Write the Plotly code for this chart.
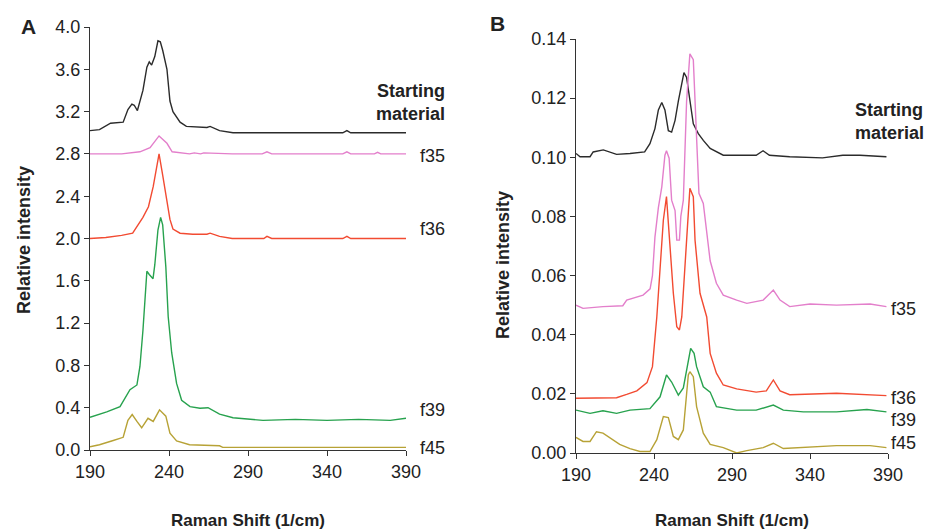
import plotly.graph_objects as go

# ---- panel A data (Raman shift, relative intensity) ----
a_start_x = [190, 196, 203, 211, 214, 216.5, 218, 220, 223.5, 226, 227.5, 229, 231, 233, 234.5, 236, 238.7, 240.6,
             242.5, 247, 251, 259.6, 264, 266, 272, 280.5, 300, 350, 352.6, 355, 390]
a_start_y = [3.02, 3.03, 3.09, 3.10, 3.22, 3.27, 3.26, 3.21, 3.40, 3.62, 3.67, 3.64, 3.72, 3.87, 3.86, 3.78, 3.60, 3.30,
             3.20, 3.10, 3.06, 3.05, 3.05, 3.06, 3.02, 3.00, 3.00, 3.00, 3.02, 3.00, 3.00]

a_f35_x = [190, 210, 221.6, 228, 233.7, 238.7, 242, 250, 253, 256, 260, 262, 280, 299, 302, 305, 350, 352.6, 355, 370, 372, 374, 390]
a_f35_y = [2.80, 2.80, 2.82, 2.86, 2.97, 2.90, 2.82, 2.81, 2.80, 2.81, 2.80, 2.81, 2.80, 2.80, 2.82, 2.80, 2.80, 2.82, 2.80, 2.80,
           2.815, 2.80, 2.80]

a_f36_x = [190, 200, 210, 217, 223.5, 227, 230, 232, 233.7, 236, 238.7, 240.6, 242.5, 247, 255, 264, 266, 268, 272, 280,
           300, 302, 305, 350, 352.6, 355, 390]
a_f36_y = [2.00, 2.01, 2.03, 2.05, 2.20, 2.30, 2.49, 2.68, 2.80, 2.60, 2.35, 2.18, 2.09, 2.05, 2.04, 2.04, 2.05, 2.04, 2.02,
           2.00, 2.00, 2.02, 2.00, 2.00, 2.02, 2.00, 2.00]

a_f39_x = [190, 200.6, 209, 215.3, 219.7, 221.6, 223.5, 226, 227.5, 229.9, 231, 233, 234.7, 236, 238, 239.5, 241.7, 244.8,
           248, 253.3, 259.6, 264.7, 272, 280.5, 299.5, 320, 340, 360, 380, 390]
a_f39_y = [0.31, 0.36, 0.41, 0.57, 0.615, 0.79, 1.13, 1.69, 1.66, 1.62, 1.75, 2.08, 2.20, 2.13, 1.73, 1.26, 0.92, 0.63,
           0.47, 0.41, 0.395, 0.40, 0.34, 0.305, 0.28, 0.29, 0.28, 0.29, 0.28, 0.30]

a_f45_x = [190, 196, 204.7, 211, 214, 216.7, 219.7, 222.7, 226.7, 230, 234, 238, 240.6, 244.8, 253, 272, 274, 390]
a_f45_y = [0.03, 0.05, 0.09, 0.12, 0.28, 0.335, 0.27, 0.21, 0.30, 0.27, 0.38, 0.32, 0.16, 0.085, 0.05, 0.04, 0.025, 0.025]

# ---- panel B data ----
b_start_x = [190, 192.6, 199, 201, 207.5, 211.8, 216, 224.6, 234, 237.4, 240.6, 242.8, 245, 247, 249.2, 251.3, 253.5,
             255.6, 257.8, 259.2, 260.9, 263, 265.2, 268.4, 271.6, 276, 284.4, 293, 305.5, 309.9, 314, 327, 348, 361,
             372, 389]
b_start_y = [0.1013, 0.1002, 0.1002, 0.1018, 0.1025, 0.1018, 0.101, 0.1013, 0.1018, 0.1046, 0.1097, 0.116, 0.1185,
             0.116, 0.109, 0.1085, 0.1125, 0.119, 0.1256, 0.1286, 0.127, 0.119, 0.1113, 0.108, 0.1057, 0.103, 0.1007,
             0.1007, 0.1007, 0.1022, 0.1007, 0.1002, 0.0998, 0.1007, 0.1007, 0.1002]

b_f35_x = [190, 194.5, 207.3, 220, 222.5, 229, 233, 237.5, 239, 240.6, 242.8, 245, 247, 248, 249.7, 251.3, 253.5, 254.6,
           256.3, 257.2, 258.8, 260.9, 263, 265.2, 266.7, 268.8, 271.6, 273.8, 276, 280, 284.4, 293, 299.5, 310, 316.5,
           320.8, 327, 340, 357, 378.5, 389]
b_f35_y = [0.050, 0.0489, 0.0495, 0.0498, 0.0517, 0.0528, 0.0534, 0.0555, 0.060, 0.073, 0.083, 0.090, 0.1007, 0.1022,
           0.0997, 0.0855, 0.082, 0.072, 0.072, 0.080, 0.0855, 0.119, 0.135, 0.133, 0.1114, 0.0878, 0.0844, 0.0743,
           0.065, 0.0574, 0.0534, 0.0517, 0.0506, 0.0517, 0.0551, 0.0517, 0.0495, 0.0504, 0.050, 0.0504, 0.0495]

b_f36_x = [190, 207.3, 216, 222.5, 229, 235.5, 239, 241.8, 243.9, 246, 248, 249.8, 252.4, 254.6, 256.3, 257.8, 259.9,
           262, 263, 265.2, 266.3, 269.5, 273.8, 276, 280, 284.4, 293, 305.5, 312, 316.5, 320.8, 327, 357, 389]
b_f36_y = [0.0185, 0.0186, 0.0187, 0.0198, 0.021, 0.0238, 0.0292, 0.046, 0.063, 0.0788, 0.0867, 0.0743, 0.054, 0.0427,
           0.0416, 0.046, 0.063, 0.0833, 0.0895, 0.0867, 0.072, 0.054, 0.046, 0.0337, 0.027, 0.023, 0.0217, 0.0206,
           0.021, 0.0247, 0.021, 0.0197, 0.0202, 0.0194]

b_f39_x = [190, 199, 207.3, 216, 224.6, 237.4, 243.9, 248, 251.3, 255.6, 258.8, 262, 263.5, 265.7, 267.3, 271.6, 276,
           280, 293, 305.5, 316.5, 322.9, 335.7, 357, 376.5, 389]
b_f39_y = [0.0145, 0.0134, 0.0143, 0.0134, 0.0145, 0.015, 0.019, 0.0264, 0.024, 0.0196, 0.022, 0.0303, 0.0354, 0.0337,
           0.0292, 0.0224, 0.0206, 0.0157, 0.0145, 0.0145, 0.0162, 0.0145, 0.0139, 0.0139, 0.0147, 0.0139]

b_f45_x = [190, 194.5, 199, 203.1, 207.3, 211.8, 218, 224.6, 231, 237.4, 241.8, 246, 249.2, 252.4, 255.6, 258.8, 262,
           263, 265.2, 267.3, 271.6, 276, 284.4, 293, 299.5, 310, 316.5, 322.9, 335.7, 357, 378.5, 389]
b_f45_y = [0.0053, 0.0039, 0.0039, 0.0072, 0.0067, 0.0051, 0.0029, 0.0015, 0.0005, 0.0005, 0.0045, 0.0123, 0.012,
           0.0056, 0.0045, 0.0078, 0.0264, 0.0275, 0.0258, 0.0157, 0.0067, 0.0029, 0.0018, 0.0, 0.0008, 0.0018,
           0.0033, 0.0015, 0.0018, 0.0025, 0.0025, 0.0018]

x_ticks = [190, 240, 290, 340, 390]
a_ticks = [0.0, 0.4, 0.8, 1.2, 1.6, 2.0, 2.4, 2.8, 3.2, 3.6, 4.0]
b_ticks = [0.00, 0.02, 0.04, 0.06, 0.08, 0.10, 0.12, 0.14]

colors = {"start": "#2b2b2b", "f35": "#e37fcb", "f36": "#f24b32", "f39": "#27a24e", "f45": "#b7a236"}

W, H = 927, 529
FONT = "Liberation Sans, Arial, sans-serif"

fig = go.Figure()

panel_a = [(a_start_x, a_start_y, "start"), (a_f35_x, a_f35_y, "f35"), (a_f36_x, a_f36_y, "f36"),
           (a_f39_x, a_f39_y, "f39"), (a_f45_x, a_f45_y, "f45")]
panel_b = [(b_start_x, b_start_y, "start"), (b_f35_x, b_f35_y, "f35"), (b_f36_x, b_f36_y, "f36"),
           (b_f39_x, b_f39_y, "f39"), (b_f45_x, b_f45_y, "f45")]

for xs, ys, key in panel_a:
    fig.add_trace(go.Scatter(x=xs, y=ys, mode="lines", line=dict(color=colors[key], width=1.4),
                             xaxis="x", yaxis="y", showlegend=False, hoverinfo="skip"))
for xs, ys, key in panel_b:
    fig.add_trace(go.Scatter(x=xs, y=ys, mode="lines", line=dict(color=colors[key], width=1.4),
                             xaxis="x2", yaxis="y2", showlegend=False, hoverinfo="skip"))

axis_style = dict(showline=True, linecolor="#333", linewidth=1, ticks="outside", ticklen=5, tickcolor="#333",
                  showgrid=False, zeroline=False, automargin=False,
                  tickfont=dict(family=FONT, size=18, color="#222"))

fig.update_layout(
    width=W, height=H, margin=dict(l=0, r=0, t=0, b=0, pad=0),
    paper_bgcolor="white", plot_bgcolor="white",
    xaxis=dict(domain=[90 / W, 406 / W], range=[190, 390], tickvals=x_ticks, anchor="y", **axis_style),
    yaxis=dict(domain=[1 - 450 / H, 1 - 27 / H], range=[0, 4.0], tickvals=a_ticks, tickformat=".1f",
               anchor="x", **axis_style),
    xaxis2=dict(domain=[576 / W, 888 / W], range=[190, 390], tickvals=x_ticks, anchor="y2", **axis_style),
    yaxis2=dict(domain=[1 - 453 / H, 1 - 39 / H], range=[0, 0.14], tickvals=b_ticks, tickformat=".2f",
                anchor="x2", **axis_style),
)

def note(text, px, py, size=16, bold=False, angle=0, xanchor="center"):
    if bold:
        text = "<b>" + text + "</b>"
    fig.add_annotation(text=text, x=px / W, y=1 - py / H, xref="paper", yref="paper", showarrow=False,
                       textangle=angle, xanchor=xanchor, yanchor="middle", align="right" if xanchor == "right" else "left",
                       font=dict(family=FONT, size=size, color="#222"))

# panel letters
note("A", 28, 26, size=21, bold=True)
note("B", 497, 24, size=21, bold=True)

# axis titles
note("Relative intensity", 24, 240, size=18, bold=True, angle=-90)
note("Relative intensity", 503, 265, size=18, bold=True, angle=-90)
note("Raman Shift (1/cm)", 248, 520, size=17, bold=True)
note("Raman Shift (1/cm)", 732, 520, size=17, bold=True)

# series labels panel A
note("Starting<br>material", 447, 103, size=18, bold=True, xanchor="right")
note("f35", 447, 156, size=18, xanchor="right")
note("f36", 447, 229, size=18, xanchor="right")
note("f39", 447, 410, size=18, xanchor="right")
note("f45", 447, 448, size=18, xanchor="right")

# series labels panel B
note("Starting<br>material", 853, 122, size=18, bold=True, xanchor="left")
note("f35", 889, 309, size=18, xanchor="left")
note("f36", 889, 398, size=18, xanchor="left")
note("f39", 889, 420, size=18, xanchor="left")
note("f45", 889, 443, size=18, xanchor="left")

# drop the default page margin so the figure sits at the window's top-left corner
fig.write_html("out.html", config={"displayModeBar": False},
               post_script="document.body.style.margin='0px';document.body.style.overflow='hidden';")
